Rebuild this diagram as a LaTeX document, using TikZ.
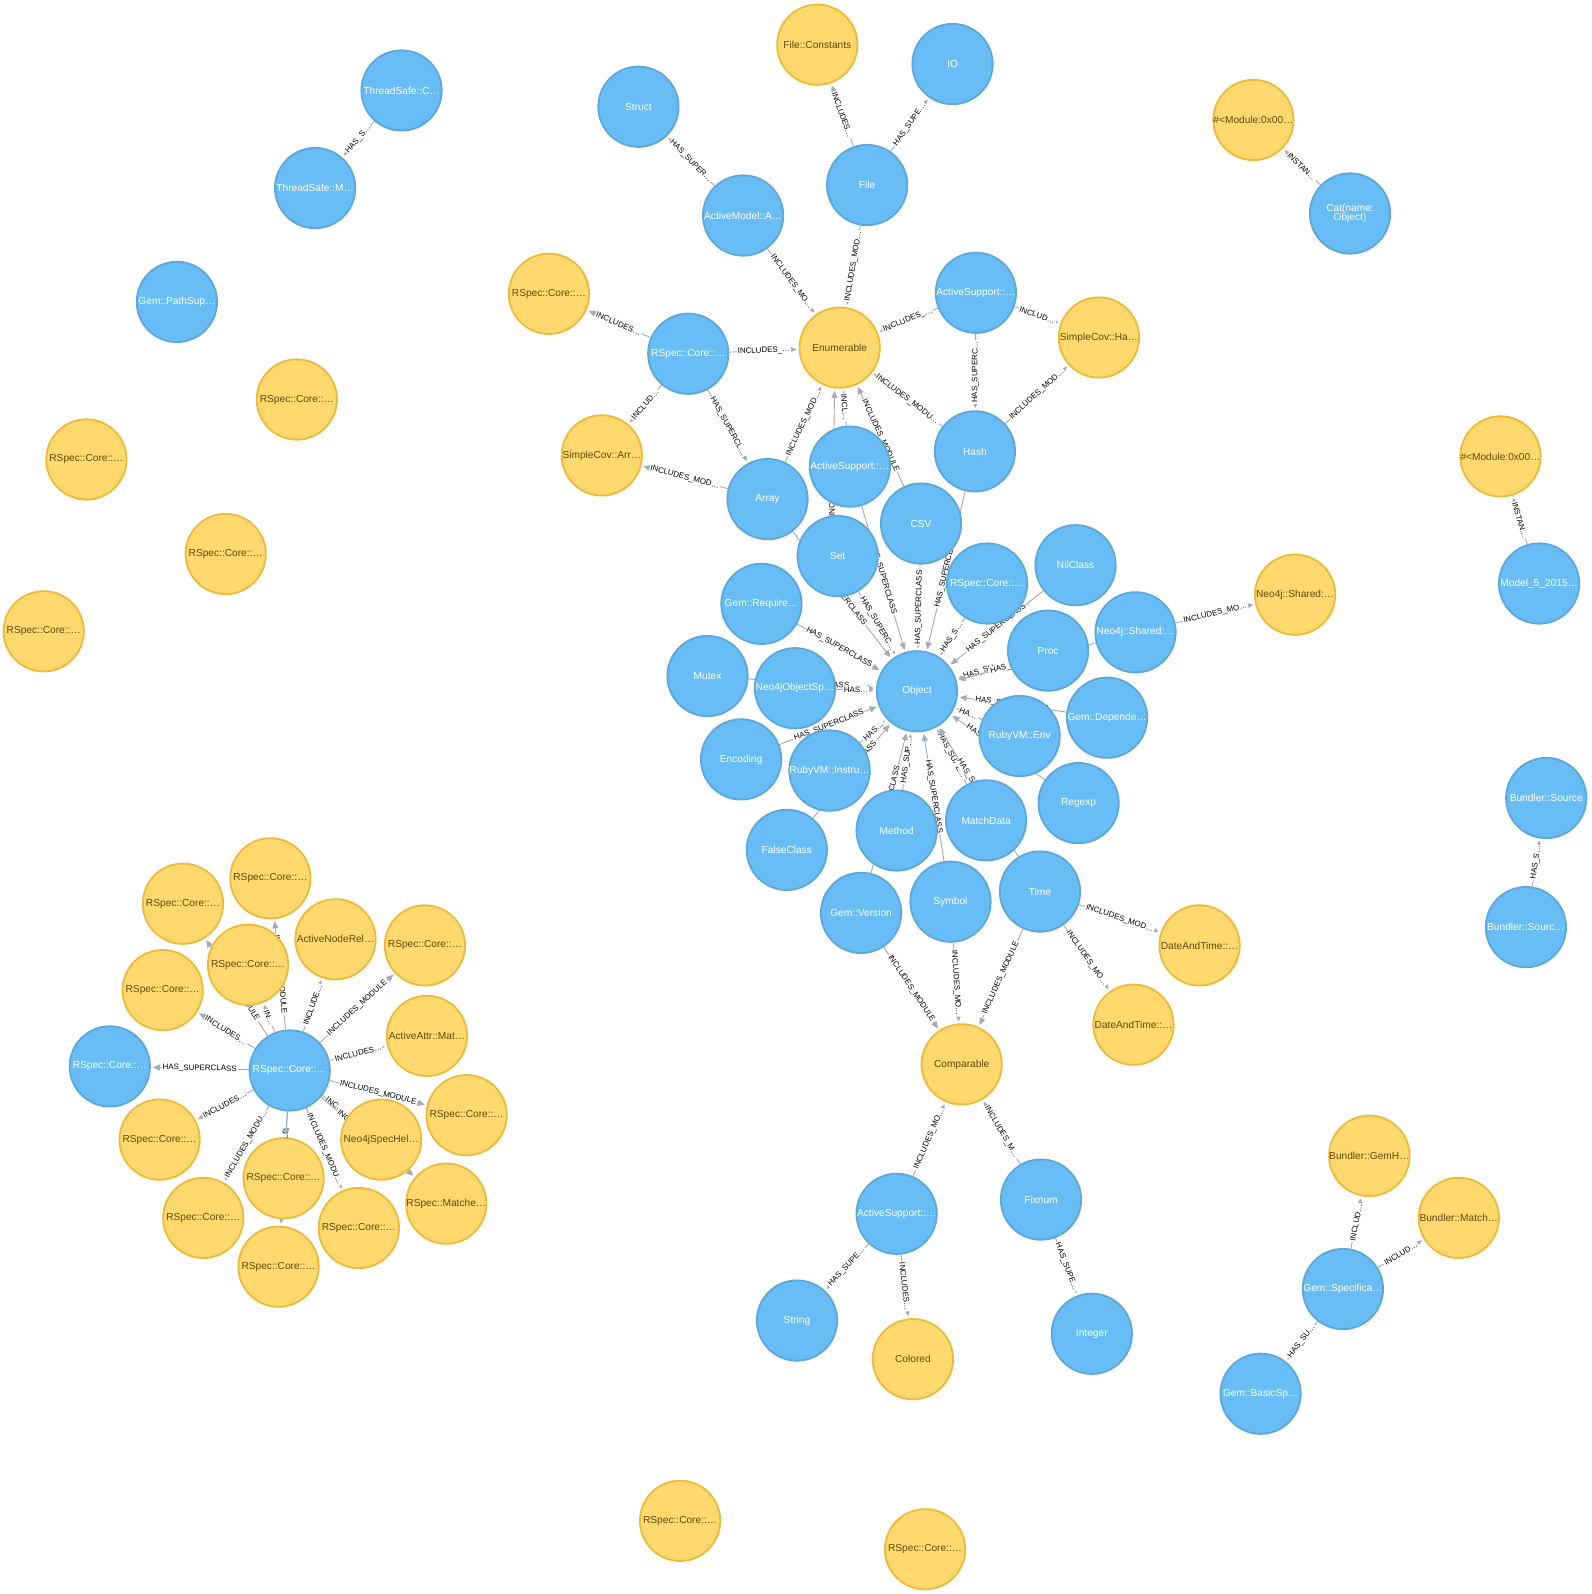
\documentclass[tikz,border=0pt]{standalone}
\usepackage{fontspec}
\setmainfont{Liberation Sans}
\usetikzlibrary{arrows.meta}
\definecolor{clsfill}{HTML}{68BDF6}
\definecolor{clsline}{HTML}{5CA8DB}
\definecolor{modfill}{HTML}{FFD86E}
\definecolor{modline}{HTML}{EDBA39}
\definecolor{modtext}{HTML}{604A0E}
\definecolor{relgray}{HTML}{A5ABB6}
\pgfdeclarelayer{edges}
\pgfsetlayers{edges,main}
\tikzset{
  clsnode/.style={circle,minimum size=79pt,inner sep=0pt,fill=clsfill,draw=clsline,line width=1.8pt,text=white,font=\fontsize{10}{11}\selectfont},
  modnode/.style={clsnode,fill=modfill,draw=modline,text=modtext},
  rel/.style={draw=relgray,line width=0.9pt,-{Triangle[length=7pt,width=6pt]},shorten >=2pt},
  elab/.style={sloped,fill=white,inner sep=1pt,text=black,font=\fontsize{7.8}{8}\selectfont}
}

\begin{document}
\begin{tikzpicture}[x=1pt,y=-1pt]
\useasboundingbox (0,0) rectangle (1566,1568);

% top group
\node[modnode] (fileconst) at (804,44) {File::Constants};
\node[clsnode] (io) at (937,63) {IO};
\node[clsnode] (struct) at (628,105) {Struct};
\node[clsnode] (file) at (853,182) {File};
\node[clsnode] (amodel) at (731,212) {ActiveModel::A…};
\node[modnode] (rspecy) at (540,289) {RSpec::Core::…};
\node[modnode] (enum) at (826,342) {Enumerable};
\node[clsnode] (asupa) at (960,288) {ActiveSupport::…};
\node[modnode] (scovha) at (1081,332) {SimpleCov::Ha…};
\node[clsnode] (rspecb) at (677,348) {RSpec::Core::…};
\node[modnode] (scovarr) at (592,448) {SimpleCov::Arr…};
\node[clsnode] (hash) at (959,444) {Hash};
\node[clsnode] (asupb) at (836,459) {ActiveSupport::…};
\node[clsnode] (array) at (755,491) {Array};
\node[clsnode] (csv) at (906,515) {CSV};
\node[clsnode] (set) at (824,547) {Set};

% around Object
\node[clsnode] (nilclass) at (1058,556) {NilClass};
\node[clsnode] (rspecc) at (971,574) {RSpec::Core::…};
\node[modnode] (neoshy) at (1274,585) {Neo4j::Shared:…};
\node[clsnode] (gemreq) at (749,594) {Gem::Require…};
\node[clsnode] (proc) at (1031,640) {Proc};
\node[clsnode] (neoshb) at (1117,622) {Neo4j::Shared:…};
\node[clsnode] (mutex) at (696,665) {Mutex};
\node[clsnode] (neoobj) at (782,677) {Neo4jObjectSp…};
\node[clsnode] (object) at (902,680) {Object};
\node[clsnode] (gemdep) at (1089,706) {Gem::Depende…};
\node[clsnode] (rubyenv) at (1003,724) {RubyVM::Env};
\node[clsnode] (encoding) at (729,747) {Encoding};
\node[clsnode] (rubyins) at (816,758) {RubyVM::Instru…};
\node[clsnode] (regexp) at (1061,790) {Regexp};
\node[clsnode] (matchdata) at (970,807) {MatchData};
\node[clsnode] (method) at (882,817) {Method};
\node[clsnode] (falsecls) at (774,836) {FalseClass};
\node[clsnode] (time) at (1023,877) {Time};
\node[clsnode] (symbol) at (935,887) {Symbol};
\node[clsnode] (gemver) at (847,898) {Gem::Version};
\node[modnode] (datea) at (1180,930) {DateAndTime::…};
\node[modnode] (dateb) at (1115,1008) {DateAndTime::…};
\node[modnode] (comparable) at (946,1047) {Comparable};
\node[clsnode] (asupc) at (882,1194) {ActiveSupport::…};
\node[clsnode] (fixnum) at (1024,1180) {Fixnum};
\node[clsnode] (string) at (784,1299) {String};
\node[modnode] (colored) at (898,1337) {Colored};
\node[clsnode] (integer) at (1074,1312) {Integer};

% small groups
\node[modnode] (modcat) at (1233,118) {\#<Module:0x00…};
\node[clsnode,align=center] (cat) at (1328,210) {Cat(name:\\[-2pt]Object)};
\node[clsnode] (tsc) at (395,89) {ThreadSafe::C…};
\node[clsnode] (tsm) at (310,185) {ThreadSafe::M…};
\node[clsnode] (gempath) at (174,297) {Gem::PathSup…};
\node[modnode] (modmodel) at (1476,449) {\#<Module:0x00…};
\node[clsnode] (model) at (1514,574) {Model\_5\_2015…};
\node[clsnode] (bsrc) at (1521,785) {Bundler::Source};
\node[clsnode] (bsrc2) at (1501,912) {Bundler::Sourc…};
\node[modnode] (gemh) at (1347,1137) {Bundler::GemH…};
\node[modnode] (bmatch) at (1435,1198) {Bundler::Match…};
\node[clsnode] (gemspec) at (1321,1268) {Gem::Specifica…};
\node[clsnode] (gembasic) at (1240,1371) {Gem::BasicSp…};

% lone modules
\node[modnode] (lone1) at (292,393) {RSpec::Core::…};
\node[modnode] (lone2) at (85,452) {RSpec::Core::…};
\node[modnode] (lone3) at (222,545) {RSpec::Core::…};
\node[modnode] (lone4) at (43,621) {RSpec::Core::…};
\node[modnode] (lone5) at (669,1496) {RSpec::Core::…};
\node[modnode] (lone6) at (910,1524) {RSpec::Core::…};

% left cluster
\node[clsnode] (hub) at (285,1053) {RSpec::Core::…};
\node[clsnode] (lsup) at (108,1049) {RSpec::Core::…};
\node[modnode] (la) at (266,864) {RSpec::Core::…};
\node[modnode] (lb) at (180,889) {RSpec::Core::…};
\node[modnode] (lc) at (330,924) {ActiveNodeRel…};
\node[modnode] (ld) at (418,930) {RSpec::Core::…};
\node[modnode] (le) at (244,949) {RSpec::Core::…};
\node[modnode] (lf) at (160,974) {RSpec::Core::…};
\node[modnode] (lg) at (420,1019) {ActiveAttr::Mat…};
\node[modnode] (lh) at (459,1097) {RSpec::Core::…};
\node[modnode] (li) at (157,1121) {RSpec::Core::…};
\node[modnode] (lj) at (375,1121) {Neo4jSpecHel…};
\node[modnode] (lk) at (279,1159) {RSpec::Core::…};
\node[modnode] (ln) at (439,1184) {RSpec::Matche…};
\node[modnode] (ll) at (200,1198) {RSpec::Core::…};
\node[modnode] (lm) at (353,1208) {RSpec::Core::…};
\node[modnode] (lo) at (274,1246) {RSpec::Core::…};

\begin{pgfonlayer}{edges}
\draw[rel] (file) -- node[elab] {INCLUDES…} (fileconst);
\draw[rel] (file) -- node[elab] {HAS\_SUPE…} (io);
\draw[rel] (amodel) -- node[elab] {HAS\_SUPER…} (struct);
\draw[rel] (amodel) -- node[elab] {INCLUDES\_MO…} (enum);
\draw[rel] (file) -- node[elab] {INCLUDES\_MOD…} (enum);
\draw[rel] (asupa) -- node[elab] {INCLUDES\_…} (enum);
\draw[rel] (asupa) -- node[elab] {INCLUD…} (scovha);
\draw[rel] (asupa) -- node[elab] {HAS\_SUPERC…} (hash);
\draw[rel] (hash) -- node[elab] {INCLUDES\_MOD…} (scovha);
\draw[rel] (hash) -- node[elab] {INCLUDES\_MODU…} (enum);
\draw[rel] (rspecb) -- node[elab] {INCLUDES…} (rspecy);
\draw[rel] (rspecb) -- node[elab] {INCLUDES\_…} (enum);
\draw[rel] (rspecb) -- node[elab] {INCLUD…} (scovarr);
\draw[rel] (rspecb) -- node[elab] {HAS\_SUPERCL…} (array);
\draw[rel] (array) -- node[elab] {INCLUDES\_MOD…} (scovarr);
\draw[rel] (array) -- node[elab] {INCLUDES\_MOD…} (enum);
\draw[rel] (asupb) -- node[elab] {INCL…} (enum);
\draw[rel] ([xshift=-5pt]set.north) -- node[elab,pos=0.3] {INCLUDES\_MODULE} ([xshift=-5pt]enum.south);
\draw[rel] (csv) -- node[elab] {INCLUDES\_MODULE} (enum);

\foreach \src/\txt in {set/HAS\_SUPERC…, array/HAS\_SUPERCLASS, asupb/HAS\_SUPERCLASS,
    csv/HAS\_SUPERCLASS, hash/HAS\_SUPERCLASS, rspecc/HAS\_S…, nilclass/HAS\_SUPERCLASS,
    proc/HAS\_SU…, neoshb/HAS\_SUPERCLASS, gemreq/HAS\_SUPERCLASS, mutex/HAS\_SUPERCLASS,
    neoobj/HAS…, encoding/HAS\_SUPERCLASS, rubyins/HAS…, falsecls/HAS\_SUPERCLASS,
    gemdep/HAS\_SUPERCLASS, rubyenv/HA…, regexp/HAS\_SUPERCLASS, matchdata/HAS\_SUPE…,
    time/HAS\_SUPERCLASS, method/HAS\_SUP…, gemver/HAS\_SUPERCLASS, symbol/HAS\_SUPERCLASS}
  \draw[rel] (\src) -- node[elab] {\txt} (object);

\draw[rel] (neoshb) -- node[elab] {INCLUDES\_MO…} (neoshy);
\draw[rel] (time) -- node[elab] {INCLUDES\_MOD…} (datea);
\draw[rel] (time) -- node[elab] {INCLUDES\_MO…} (dateb);
\draw[rel] (time) -- node[elab] {INCLUDES\_MODULE} (comparable);
\draw[rel] (symbol) -- node[elab] {INCLUDES\_MO…} (comparable);
\draw[rel] (gemver) -- node[elab] {INCLUDES\_MODULE} (comparable);
\draw[rel] (asupc) -- node[elab] {INCLUDES\_MO…} (comparable);
\draw[rel] (fixnum) -- node[elab] {INCLUDES\_M…} (comparable);
\draw[rel] (asupc) -- node[elab] {HAS\_SUPE…} (string);
\draw[rel] (asupc) -- node[elab] {INCLUDES…} (colored);
\draw[rel] (fixnum) -- node[elab] {HAS\_SUPE…} (integer);

\draw[rel] (cat) -- node[elab] {INSTAN…} (modcat);
\draw[rel] (model) -- node[elab] {INSTAN…} (modmodel);
\draw[rel] (tsc) -- node[elab] {HAS\_S…} (tsm);
\draw[rel] (bsrc2) -- node[elab] {HAS\_S…} (bsrc);
\draw[rel] (gemspec) -- node[elab] {INCLUD…} (gemh);
\draw[rel] (gemspec) -- node[elab] {INCLUD…} (bmatch);
\draw[rel] (gemspec) -- node[elab] {HAS\_SU…} (gembasic);

% left cluster
\draw[rel] (hub) -- node[elab] {HAS\_SUPERCLASS} (lsup);
\foreach \dst/\txt in {lf/INCLUDES…, lb/INCLUDES\_MODULE, le/IN…, la/INCLUDES\_MODULE,
    lc/INCLUDE…, ld/INCLUDES\_MODULE, lg/INCLUDES…, lh/INCLUDES\_MODULE, lj/INC…,
    ln/INCLUDES\_MODULE, lm/INCLUDES\_MODU…, lo/INCLUDES\_MODULE, li/INCLUDES…,
    ll/INCLUDES\_MODU…}
  \draw[rel] (hub) -- node[elab] {\txt} (\dst);
\draw[rel] (hub) -- (lk);
\end{pgfonlayer}

\end{tikzpicture}
\end{document}
